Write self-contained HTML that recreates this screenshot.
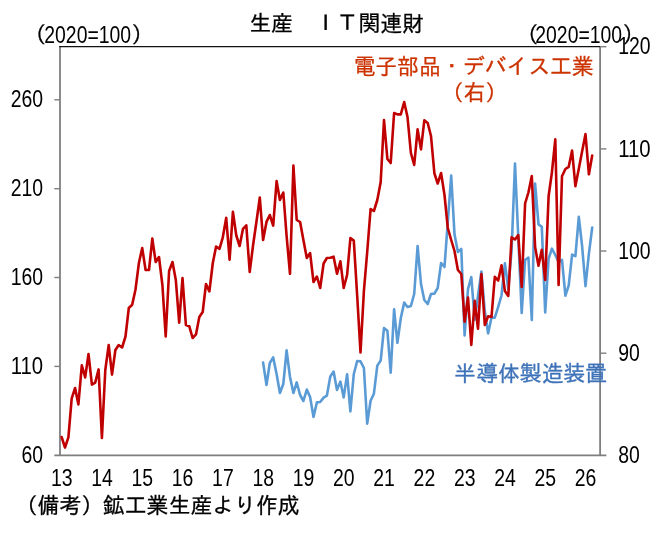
<!DOCTYPE html>
<html lang="ja"><head><meta charset="utf-8"><title>生産 IT関連財</title>
<style>html,body{margin:0;padding:0;background:#fff}body{width:665px;height:547px;overflow:hidden}svg{display:block;will-change:transform}text{font-family:"Liberation Sans","IPAGothic","Noto Sans CJK JP",sans-serif;font-size:21.85px;fill:#000}.n{font-size:24.1px}.k{stroke:#000;stroke-width:.3px}.r{fill:#CC3300;stroke:#CC3300;stroke-width:.3px}.b{fill:#3E73B9;stroke:#3E73B9;stroke-width:.35px}</style></head><body>
<svg width="665" height="547" viewBox="0 0 665 547">
<rect width="665" height="547" fill="#fff"/>
<g stroke="#7f7f7f" stroke-width="1.8" fill="none">
<line x1="60" y1="46.2" x2="60" y2="456"/>
<line x1="600.1" y1="46.2" x2="600.1" y2="456"/>
<line x1="54.3" y1="455.3" x2="606.4" y2="455.3"/>
</g>
<g stroke="#7f7f7f" stroke-width="1.4" fill="none">
<line x1="54.3" y1="99.8" x2="60" y2="99.8"/>
<line x1="54.3" y1="188.7" x2="60" y2="188.7"/>
<line x1="54.3" y1="277.5" x2="60" y2="277.5"/>
<line x1="54.3" y1="366.4" x2="60" y2="366.4"/>
<line x1="600" y1="46.7" x2="606.4" y2="46.7"/>
<line x1="600" y1="148.9" x2="606.4" y2="148.9"/>
<line x1="600" y1="251.0" x2="606.4" y2="251.0"/>
<line x1="600" y1="353.2" x2="606.4" y2="353.2"/>
</g>
<line x1="59.2" y1="46.7" x2="600" y2="46.7" stroke="#111" stroke-width="1.3"/>
<polyline fill="none" stroke="#5B9BD5" stroke-width="2.6" stroke-linejoin="round" stroke-linecap="round" points="263.1,362.6 266.5,385.0 269.8,363.0 273.2,357.4 276.6,374.0 279.9,393.0 283.3,384.0 286.6,350.4 290.0,377.0 293.4,393.0 296.7,382.4 300.1,395.0 303.4,401.0 306.8,389.6 310.1,397.0 313.5,417.0 316.9,402.4 320.2,402.0 323.6,397.6 326.9,395.6 330.3,376.4 333.6,371.6 337.0,390.0 340.4,381.6 343.7,397.4 347.1,374.4 350.4,411.4 353.8,374.0 357.2,361.0 360.5,361.3 363.9,368.0 367.2,423.6 370.6,400.8 373.9,393.7 377.3,365.6 380.7,360.5 384.0,328.0 387.4,330.8 390.7,372.7 394.1,309.2 397.4,342.8 400.8,318.0 404.2,302.6 407.5,307.0 410.9,306.0 414.2,294.0 417.6,246.0 421.0,284.0 424.3,300.0 427.7,304.0 431.0,294.0 434.4,293.6 437.7,288.0 441.1,263.0 444.5,267.0 447.8,222.0 451.2,175.5 454.5,234.3 457.9,252.0 461.3,249.0 464.6,335.4 468.0,289.0 471.3,277.0 474.7,319.7 478.0,296.0 481.4,271.5 484.8,311.0 488.1,333.4 491.5,317.5 494.8,317.7 498.2,306.8 501.5,295.5 504.9,263.4 508.3,289.0 511.6,250.0 515.0,163.5 518.3,238.0 521.7,313.0 525.1,260.0 528.4,257.5 531.8,320.0 535.1,183.5 538.5,224.4 541.8,226.8 545.2,312.4 548.6,258.7 551.9,248.7 555.3,255.0 558.6,262.0 562.0,259.8 565.4,295.6 568.7,285.5 572.1,254.6 575.4,256.2 578.8,216.9 582.1,246.0 585.5,286.2 588.9,253.7 592.2,227.5"/>
<polyline fill="none" stroke="#C00000" stroke-width="2.6" stroke-linejoin="round" stroke-linecap="round" points="61.6,437.0 65.0,447.5 68.4,437.3 71.7,398.4 75.1,388.0 78.4,404.4 81.8,365.4 85.2,377.4 88.5,354.0 91.9,384.6 95.2,382.6 98.6,369.4 101.9,438.0 105.3,370.0 108.7,345.0 112.0,374.6 115.4,350.0 118.7,345.0 122.1,347.5 125.5,336.5 128.8,308.0 132.2,304.8 135.5,289.5 138.9,263.0 142.2,248.0 145.6,270.0 149.0,270.0 152.3,238.6 155.7,262.0 159.0,257.0 162.4,285.0 165.7,336.5 169.1,271.0 172.5,262.0 175.8,280.0 179.2,322.6 182.5,278.0 185.9,325.0 189.3,326.3 192.6,338.0 196.0,334.4 199.3,317.0 202.7,312.0 206.0,284.0 209.4,291.4 212.8,263.0 216.1,246.5 219.5,248.8 222.8,237.3 226.2,217.9 229.6,259.6 232.9,211.8 236.3,235.5 239.6,246.0 243.0,228.8 246.3,225.3 249.7,272.0 253.1,245.0 256.4,222.0 259.8,197.5 263.1,240.0 266.5,221.9 269.8,215.0 273.2,225.6 276.6,181.1 279.9,200.0 283.3,192.5 286.6,236.0 290.0,273.8 293.4,165.6 296.7,220.0 300.1,222.0 303.4,240.0 306.8,258.0 310.1,253.0 313.5,282.0 316.9,276.5 320.2,288.0 323.6,263.5 326.9,258.0 330.3,257.8 333.6,256.7 337.0,273.8 340.4,261.3 343.7,288.0 347.1,275.0 350.4,238.0 353.8,240.6 357.2,296.0 360.5,352.5 363.9,291.0 367.2,252.0 370.6,209.0 373.9,211.0 377.3,200.0 380.7,182.0 384.0,120.0 387.4,159.0 390.7,163.0 394.1,113.0 397.4,114.4 400.8,114.4 404.2,102.0 407.5,117.0 410.9,153.0 414.2,165.0 417.6,129.4 421.0,149.4 424.3,120.4 427.7,123.0 431.0,136.0 434.4,173.4 437.7,183.5 441.1,173.0 444.5,195.0 447.8,228.0 451.2,240.0 454.5,251.0 457.9,270.0 461.3,274.0 464.6,321.7 468.0,297.5 471.3,345.0 474.7,300.8 478.0,328.8 481.4,274.0 484.8,325.0 488.1,316.3 491.5,317.0 494.8,276.8 498.2,280.5 501.5,265.2 504.9,291.1 508.3,296.0 511.6,237.3 515.0,239.5 518.3,235.0 521.7,287.0 525.1,203.5 528.4,192.5 531.8,176.0 535.1,247.0 538.5,265.7 541.8,249.7 545.2,280.0 548.6,196.2 551.9,172.5 555.3,139.3 558.6,285.0 562.0,176.2 565.4,169.0 568.7,166.8 572.1,150.6 575.4,186.2 578.8,168.7 582.1,151.5 585.5,134.0 588.9,174.3 592.2,155.6"/>
<text class="k" x="249.2" y="30.8">生産　ＩＴ関連財</text>
<text class="k" x="24.3" y="42.3">（</text><text class="n" x="44.3" y="43" textLength="86.8" lengthAdjust="spacingAndGlyphs">2020=100</text><text class="k" x="131.5" y="42.3">）</text>
<text class="k" x="516.6" y="42.3">（</text><text class="n" x="535.3" y="43" textLength="86.8" lengthAdjust="spacingAndGlyphs">2020=100</text><text class="k" x="622.5" y="42.3">）</text>
<text class="n" x="10.7" y="107.4" textLength="32.4" lengthAdjust="spacingAndGlyphs">260</text>
<text class="n" x="10.7" y="196.3" textLength="32.4" lengthAdjust="spacingAndGlyphs">210</text>
<text class="n" x="10.7" y="285.1" textLength="32.4" lengthAdjust="spacingAndGlyphs">160</text>
<text class="n" x="10.7" y="374.0" textLength="32.4" lengthAdjust="spacingAndGlyphs">110</text>
<text class="n" x="21.5" y="462.9" textLength="21.6" lengthAdjust="spacingAndGlyphs">60</text>
<text class="n" x="618.2" y="54.3" textLength="32.4" lengthAdjust="spacingAndGlyphs">120</text>
<text class="n" x="618.2" y="156.5" textLength="32.4" lengthAdjust="spacingAndGlyphs">110</text>
<text class="n" x="618.2" y="258.6" textLength="32.4" lengthAdjust="spacingAndGlyphs">100</text>
<text class="n" x="618.2" y="360.8" textLength="21.6" lengthAdjust="spacingAndGlyphs">90</text>
<text class="n" x="618.2" y="462.9" textLength="21.6" lengthAdjust="spacingAndGlyphs">80</text>
<text class="n" x="51.0" y="486.3" textLength="21.6" lengthAdjust="spacingAndGlyphs">13</text>
<text class="n" x="91.2" y="486.3" textLength="21.6" lengthAdjust="spacingAndGlyphs">14</text>
<text class="n" x="131.5" y="486.3" textLength="21.6" lengthAdjust="spacingAndGlyphs">15</text>
<text class="n" x="171.8" y="486.3" textLength="21.6" lengthAdjust="spacingAndGlyphs">16</text>
<text class="n" x="212.1" y="486.3" textLength="21.6" lengthAdjust="spacingAndGlyphs">17</text>
<text class="n" x="252.4" y="486.3" textLength="21.6" lengthAdjust="spacingAndGlyphs">18</text>
<text class="n" x="292.7" y="486.3" textLength="21.6" lengthAdjust="spacingAndGlyphs">19</text>
<text class="n" x="333.0" y="486.3" textLength="21.6" lengthAdjust="spacingAndGlyphs">20</text>
<text class="n" x="373.3" y="486.3" textLength="21.6" lengthAdjust="spacingAndGlyphs">21</text>
<text class="n" x="413.6" y="486.3" textLength="21.6" lengthAdjust="spacingAndGlyphs">22</text>
<text class="n" x="453.9" y="486.3" textLength="21.6" lengthAdjust="spacingAndGlyphs">23</text>
<text class="n" x="494.2" y="486.3" textLength="21.6" lengthAdjust="spacingAndGlyphs">24</text>
<text class="n" x="534.5" y="486.3" textLength="21.6" lengthAdjust="spacingAndGlyphs">25</text>
<text class="n" x="574.8" y="486.3" textLength="21.6" lengthAdjust="spacingAndGlyphs">26</text>
<text class="k" x="15.7" y="513.3">（備考）鉱工業生産より作成</text>
<text class="r" x="473.8" y="73.7" text-anchor="middle">電子部品・デバイス工業</text>
<text class="r" x="474.4" y="100.4" text-anchor="middle">（右）</text>
<text class="b" x="454.3" y="381.0">半導体製造装置</text>
</svg></body></html>
